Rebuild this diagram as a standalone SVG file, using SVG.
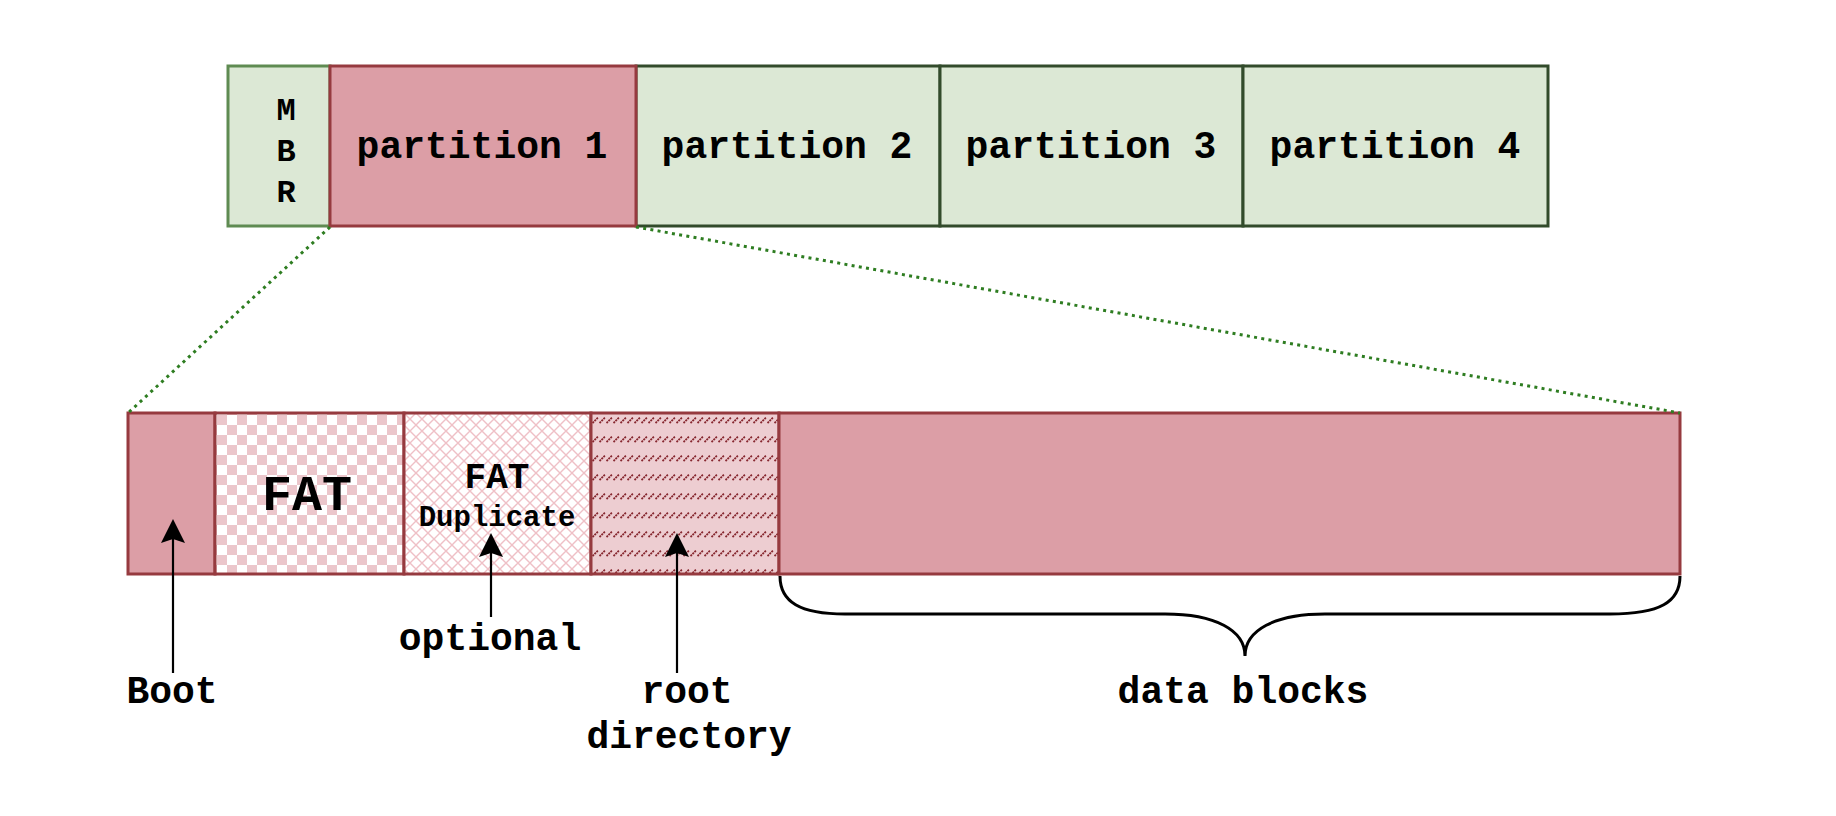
<svg xmlns="http://www.w3.org/2000/svg" width="1836" height="816" viewBox="0 0 1836 816">
<style>
  .t { font-family: "Liberation Mono", "Courier New", monospace; font-weight: bold; fill: #000; text-anchor: middle; }
  .pg { fill: #dce8d5; stroke: #324b2b; stroke-width: 3; }
  .pr { fill: #dc9ea6; stroke: #963a3f; stroke-width: 3; }
  .dot { fill: none; stroke: #2e7d21; stroke-width: 3; stroke-dasharray: 3 4.3; }
  .arr { fill: none; stroke: #000; stroke-width: 2.2; marker-end: url(#ah); }
</style>
<defs>
  <marker id="ah" markerUnits="userSpaceOnUse" viewBox="-6 -13 28 26" markerWidth="28" markerHeight="26" refX="0" refY="0" orient="auto" overflow="visible">
    <path d="M 20 0 L -4 -12 L 0 0 L -4 12 Z" fill="#000"/>
  </marker>
  <pattern id="chk" patternUnits="userSpaceOnUse" x="217" y="415" width="20" height="20">
    <rect width="20" height="20" fill="#fff"/>
    <rect width="10" height="10" fill="#ebc6cb"/>
    <rect x="10" y="10" width="10" height="10" fill="#ebc6cb"/>
  </pattern>
  <pattern id="xh" patternUnits="userSpaceOnUse" x="404" y="413" width="12" height="12">
    <rect width="12" height="12" fill="#fff"/>
    <path d="M0 0 L12 12 M0 12 L12 0" stroke="#efc0c6" stroke-width="1.4"/>
  </pattern>
  <pattern id="dsh" patternUnits="userSpaceOnUse" x="592" y="416" width="7" height="19">
    <rect width="7" height="19" fill="#edcdd1"/>
    <path d="M0.5 7 L6 1.5" stroke="#86262e" stroke-width="1.8" stroke-dasharray="2 0.8"/>
  </pattern>
</defs>

<g id="partition2"><rect class="pg" x="636" y="66" width="304" height="160"/><text class="t" x="787" y="158" font-size="38">partition 2</text></g>
<g id="partition3"><rect class="pg" x="940" y="66" width="303" height="160"/><text class="t" x="1091" y="158" font-size="38">partition 3</text></g>
<g id="partition4"><rect class="pg" x="1243" y="66" width="305" height="160"/><text class="t" x="1395" y="158" font-size="38">partition 4</text></g>
<g id="mbr">
  <rect x="228" y="66" width="102" height="160" fill="#dce8d5" stroke="#5f8b52" stroke-width="3"/>
  <text class="t" x="286" y="120" font-size="32">M</text>
  <text class="t" x="286" y="161" font-size="32">B</text>
  <text class="t" x="286" y="202" font-size="32">R</text>
</g>
<g id="partition1"><rect class="pr" x="330" y="66" width="306" height="160"/><text class="t" x="482" y="158" font-size="38">partition 1</text></g>

<g id="boot"><rect class="pr" x="128" y="413" width="87" height="161"/></g>
<g id="fat"><rect x="215" y="413" width="189" height="161" fill="url(#chk)" stroke="#963a3f" stroke-width="3"/><text class="t" x="307" y="510" font-size="50">FAT</text></g>
<g id="fatdup"><rect x="404" y="413" width="187" height="161" fill="url(#xh)" stroke="#963a3f" stroke-width="3"/>
  <text class="t" x="497" y="488" font-size="36">FAT</text>
  <text class="t" x="497" y="526" font-size="29">Duplicate</text></g>
<g id="rootdir"><rect x="591" y="413" width="188" height="161" fill="url(#dsh)" stroke="#963a3f" stroke-width="3"/></g>
<g id="data"><rect class="pr" x="779" y="413" width="901" height="161"/></g>

<g id="connectors">
  <path class="dot" d="M330 227 L128 413"/>
  <path class="dot" d="M636 227 L1680 413"/>
  <path class="arr" d="M173 673 L173 539"/>
  <path class="arr" d="M491 617 L491 553"/>
  <path class="arr" d="M677 673 L677 553"/>
  <path fill="none" stroke="#000" stroke-width="3" d="M780 576 C780 602 800 614 845 614 L1165 614 C1215 614 1245 630 1245 656 C1245 630 1275 614 1325 614 L1610 614 C1660 614 1680 602 1680 576"/>
</g>

<g id="labels">
  <text class="t" x="172" y="703" font-size="38">Boot</text>
  <text class="t" x="490" y="650" font-size="38">optional</text>
  <text class="t" x="687" y="703" font-size="38">root</text>
  <text class="t" x="689" y="748" font-size="38">directory</text>
  <text class="t" x="1243" y="703" font-size="38">data blocks</text>
</g>
</svg>
